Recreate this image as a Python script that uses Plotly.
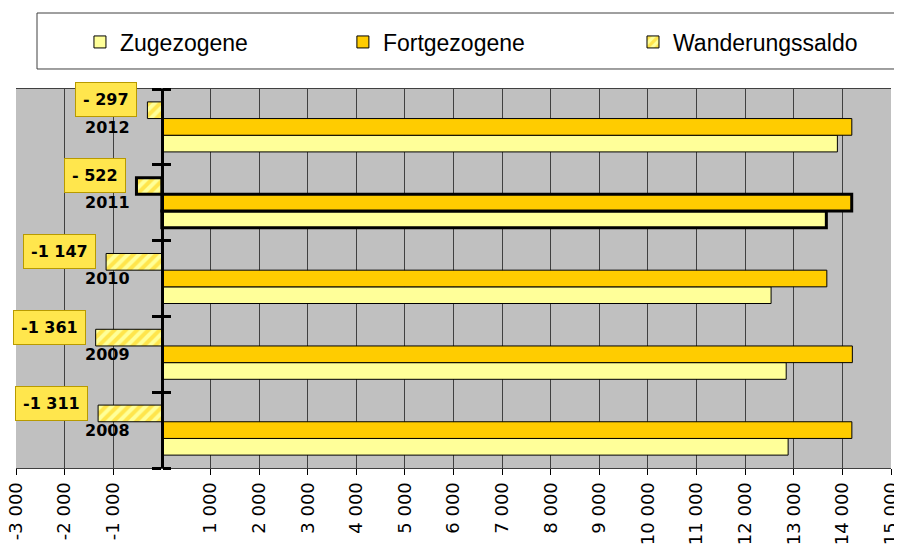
# Wanderungen 2008-2012: Zugezogene, Fortgezogene und Wanderungssaldo
import plotly.graph_objects as go

years = ["2008", "2009", "2010", "2011", "2012"]
zugezogene = [12884, 12844, 12533, 13670, 13897]
fortgezogene = [14195, 14205, 13680, 14192, 14194]
saldo = [-1311, -1361, -1147, -522, -297]
saldo_labels = ["-1 311", "-1 361", "-1 147", "- 522", "- 297"]

x_ticks = [-3000, -2000, -1000, 1000, 2000, 3000, 4000, 5000, 6000, 7000,
           8000, 9000, 10000, 11000, 12000, 13000, 14000, 15000]
x_ticktext = [f"{v:,}".replace(",", " ") for v in x_ticks]

# 2011 is highlighted with a thick frame
line_w = [3 if y == "2011" else 1 for y in years]

fig = go.Figure()
fig.add_trace(go.Bar(y=years, x=zugezogene, name="Zugezogene", orientation="h", legend="legend",
                     marker=dict(color="#FFFF99", line=dict(color="black", width=line_w))))
fig.add_trace(go.Bar(y=years, x=fortgezogene, name="Fortgezogene", orientation="h", legend="legend2",
                     marker=dict(color="#FFCC00", line=dict(color="black", width=line_w))))
fig.add_trace(go.Bar(y=years, x=saldo, name="Wanderungssaldo", orientation="h", legend="legend3",
                     marker=dict(color="#FFFF99", line=dict(color="black", width=line_w),
                                 pattern=dict(shape="/", fgcolor="#FFCC00", bgcolor="#FFFF99",
                                              size=8, solidity=0.5))))
# empty helper trace so the second y axis (inner tick marks) gets the categories
fig.add_trace(go.Scatter(y=years, x=[None] * len(years), yaxis="y2", showlegend=False,
                         hoverinfo="skip", mode="markers"))

# value labels for the saldo (category index as y, "2012" would be read as a number)
for i, (v, t) in enumerate(zip(saldo, saldo_labels)):
    fig.add_annotation(x=v, y=i, text="<b>" + t + "</b>", showarrow=False,
                       xanchor="right", xshift=-10, yshift=27,
                       font=dict(family="DejaVu Sans", size=16, color="black"),
                       bgcolor="#FFE64D", bordercolor="#B89A00", borderwidth=1, borderpad=7)

leg = dict(orientation="h", xref="container", yref="container", xanchor="left",
           y=1 - 34 / 536, yanchor="middle", font=dict(size=23), bgcolor="rgba(0,0,0,0)")

# the page body has an 8px margin, so the figure is 8px smaller and shifted
fig.update_layout(
    width=894, height=536,
    margin=dict(l=8, r=11, t=81, b=76, autoexpand=False),
    paper_bgcolor="white",
    plot_bgcolor="#C0C0C0",
    barmode="group",
    bargap=0.34,
    bargroupgap=0,
    font=dict(family="Liberation Sans", color="black"),
    showlegend=True,
    legend=dict(leg, x=0.0805),
    legend2=dict(leg, x=0.3746),
    legend3=dict(leg, x=0.6991),
    shapes=[
        # legend frame
        dict(type="rect", xref="paper", yref="paper", x0=0.024, x1=1.1, y0=1.0528, y1=1.2005,
             line=dict(color="#404040", width=1), fillcolor="rgba(0,0,0,0)"),
    ],
)

fig.update_xaxes(
    range=[-3000, 15000], automargin=False,
    tickvals=x_ticks, ticktext=x_ticktext, tickangle=-90,
    tickfont=dict(family="DejaVu Sans", size=18, color="black"),
    ticklabeloverflow="allow",
    ticks="outside", ticklen=6, tickcolor="black",
    showgrid=True, gridcolor="#404040", gridwidth=1,
    zeroline=False,
    showline=True, linecolor="#404040", linewidth=1, mirror=True,
)

fig.update_yaxes(
    type="category", automargin=False,
    categoryorder="array", categoryarray=years,
    range=[-0.5, len(years) - 0.5],
    anchor="free", position=3000 / 18000,
    showline=True, linecolor="black", linewidth=3,
    ticks="outside", ticklen=9, tickwidth=3, tickcolor="black",
    tickson="boundaries",
    ticklabelstandoff=28,
    tickfont=dict(family="DejaVu Sans", size=16, color="black", weight="bold"),
    showgrid=False, zeroline=False,
)

fig.update_layout(yaxis2=dict(
    type="category", overlaying="y", matches="y", automargin=False,
    categoryorder="array", categoryarray=years,
    anchor="free", position=3000 / 18000, side="right",
    showline=False, showticklabels=False,
    ticks="outside", ticklen=8, tickwidth=3, tickcolor="black",
    tickson="boundaries", showgrid=False, zeroline=False,
))

fig.write_html("out.html")
